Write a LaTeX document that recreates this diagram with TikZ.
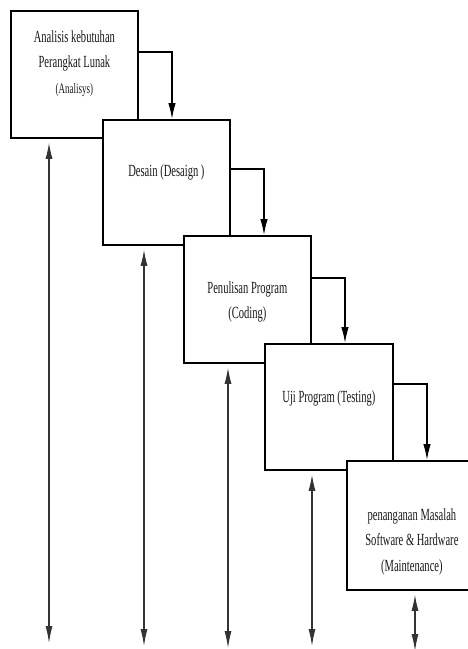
\documentclass[tikz,border=0pt]{standalone}
\usepackage{fontspec}
\newfontfamily\stagefont{Liberation Serif}[FakeStretch=0.62]
\usepackage{tikz}
\usetikzlibrary{positioning, calc, arrows.meta}

\tikzset{
  stage/.style={draw, line width=1.8pt, fill=white, rectangle, inner sep=0pt,
    minimum width=127pt, minimum height=127pt, anchor=north west},
  stage text/.style={align=center, inner sep=0pt, text=black!90,
    font=\stagefont\fontsize{17}{25.5}\selectfont},
  flow/.style={-{Latex[length=16pt,width=7.5pt]}, line width=1.3pt},
  feedback/.style={{Latex[length=16pt,width=7pt]}-{Latex[length=17pt,width=7pt]},
    line width=1.1pt, draw=black!80, fill=black!80, shorten <=4pt}
}

\begin{document}
\begin{tikzpicture}[x=1pt, y=-1pt]
      \useasboundingbox (0,0) rectangle (468,649);

      % The stages, each one lying over the one before
      \node [stage] (stage-1) at (10,10) {};
      \node [stage, minimum height=125pt] (stage-2) at (102,119) {};
      \node [stage] (stage-3) at (183,235) {};
      \node [stage, minimum width=128pt, minimum height=126pt] (stage-4) at (264,343) {};
      \node [stage, minimum width=130pt, minimum height=129pt] (stage-5) at (346,460) {};

      % Add the labels to the stages
      \node [stage text, below=20pt of stage-1.north] (label-1)
        {Analisis kebutuhan\\Perangkat Lunak\\{\fontsize{14.5}{25.5}\selectfont (Analisys)}};
      \node [stage text, below=45pt of stage-2.north] (label-2) {Desain (Desaign )};
      \node [stage text, below=46pt of stage-3.north] (label-3) {Penulisan Program\\(Coding)};
      \node [stage text, below=47pt of stage-4.north] (label-4) {Uji Program (Testing)};
      \node [stage text, below=48pt of stage-5.north] (label-5)
        {penanganan Masalah\\Software \& Hardware\\(Maintenance)};

      % Draw the connecting arrows
      \foreach \i/\j/\dy/\dx in {1/2/42/70, 2/3/50/81, 3/4/43/81, 4/5/41/81}
        \draw [flow] ([yshift=-\dy pt]stage-\i.north east) -| ([xshift=\dx pt]stage-\j.north west);

      % Feedback arrows below every stage
      \coordinate (foot-1) at (49,643);
      \coordinate (foot-2) at (144,646);
      \coordinate (foot-3) at (228,648);
      \coordinate (foot-4) at (312,646);
      \coordinate (foot-5) at (415,651);
      \foreach \i in {1,...,5}
        \draw [feedback] (stage-\i.south -| foot-\i) -- (foot-\i);
\end{tikzpicture}
\end{document}
